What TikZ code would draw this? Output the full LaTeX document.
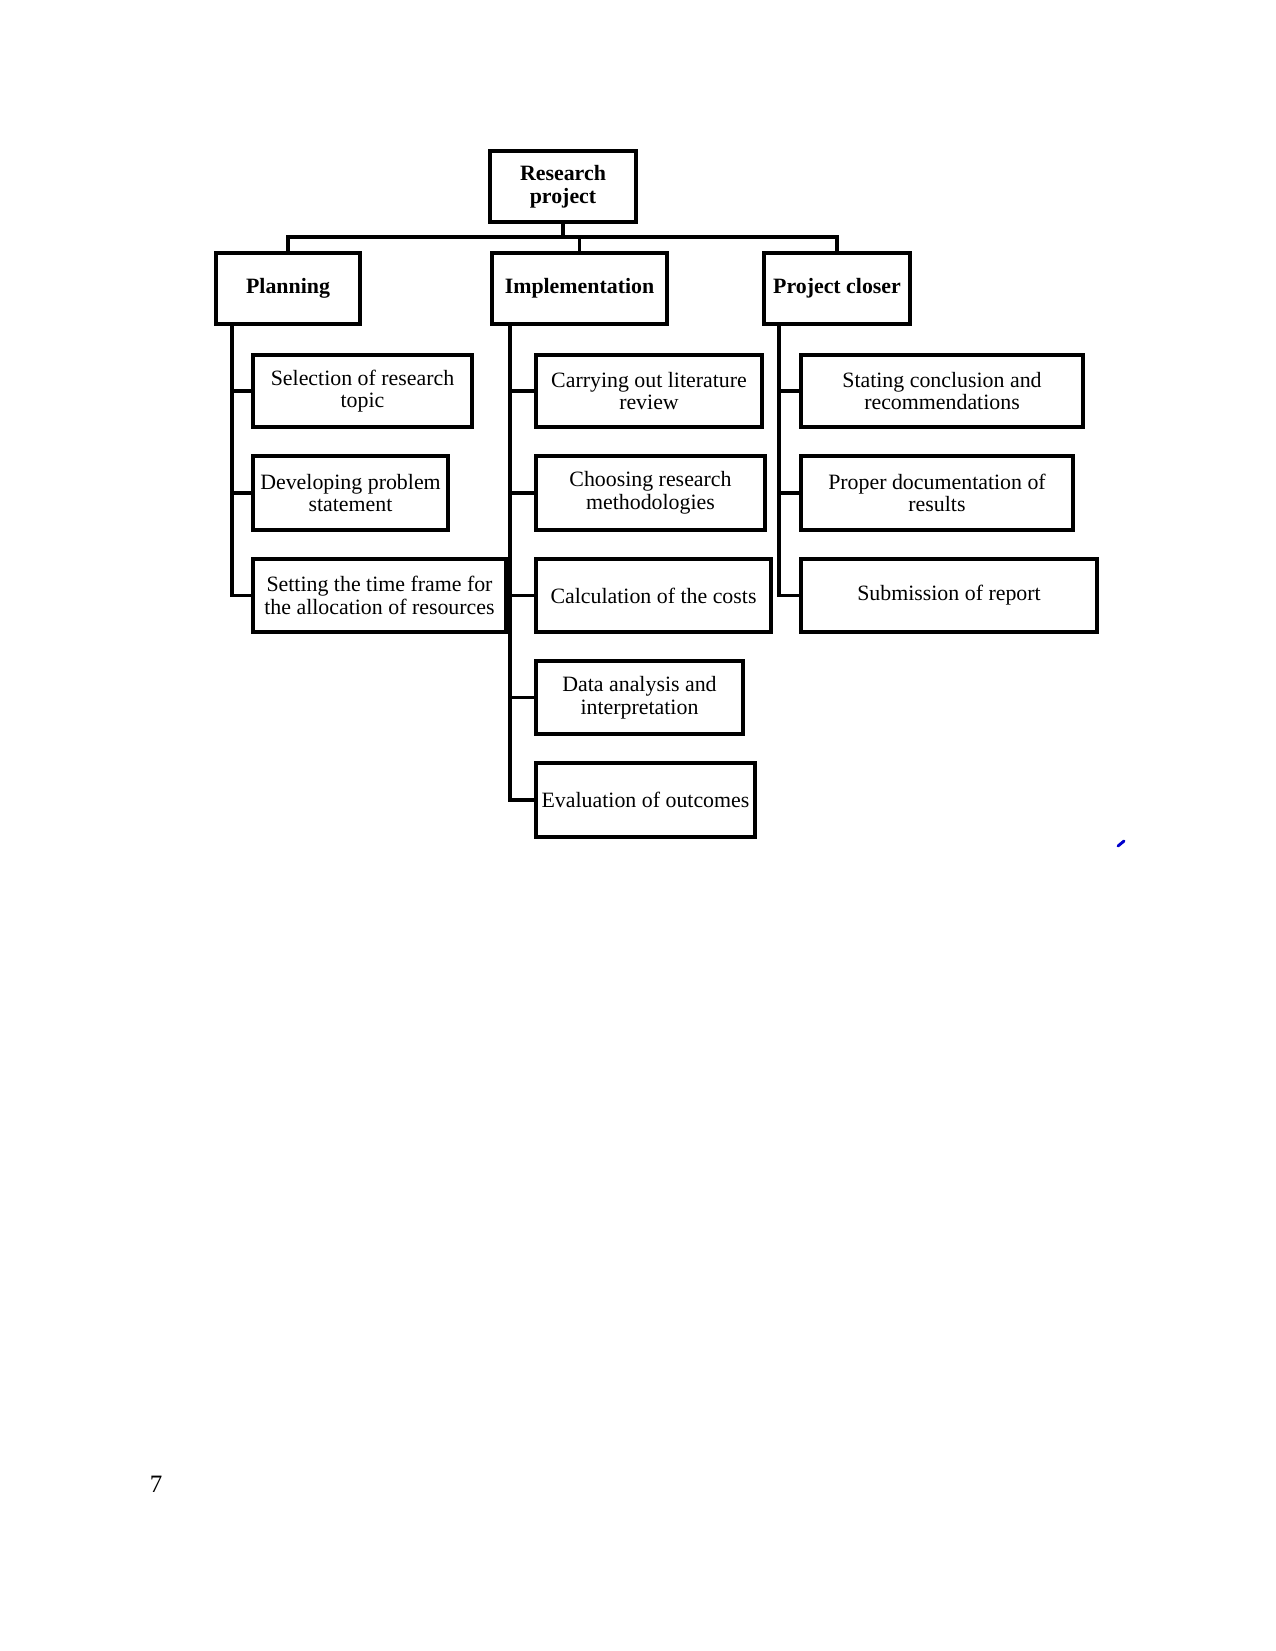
\documentclass[tikz,border=0pt]{standalone}
\usepackage{fontspec}
\setmainfont{Liberation Serif}
\begin{document}
\begin{tikzpicture}[x=0.48pt,y=-0.48pt,
  bx/.style 2 args={draw, line width=1.9pt, rectangle, inner sep=0pt, align=center,
     minimum width=#1*0.48pt, minimum height=#2*0.48pt,
     font=\fontsize{10.5}{10.8}\selectfont},
  hd/.style={font=\fontsize{10.5}{10.8}\selectfont\bfseries},
  conn/.style={line width=1.6pt, line cap=rect}]
\useasboundingbox (0,0) rectangle (1275,1651);
% level 0/1
\node[bx={146}{71}, hd] (root) at (563,186.5) {Research\\project};
\node[bx={144}{71}, hd] (plan) at (288,288.5) {Planning};
\node[bx={175}{71}, hd] (impl) at (579.5,288.5) {Implementation};
\node[bx={146}{71}, hd] (pc) at (837,288.5) {Project closer};
% planning children
\node[bx={219}{72}] (s1) at (362.5,391) {Selection of research\\topic};
\node[bx={195}{74}] (s2) at (350.5,493) {Developing problem\\statement};
\node[bx={253}{73}] (s3) at (379.5,595.5) {Setting the time frame for\\the allocation of resources};
% implementation children
\node[bx={226}{72}] (i1) at (649,391) {Carrying out literature\\review};
\node[bx={229}{74}] (i2) at (650.5,493) {Choosing research\\methodologies};
\node[bx={235}{73}] (i3) at (653.5,595.5) {Calculation of the costs};
\node[bx={207}{73}] (i4) at (639.5,697.5) {Data analysis and\\interpretation};
\node[bx={219}{74}] (i5) at (645.5,800) {Evaluation of outcomes};
% project closer children
\node[bx={282}{72}] (c1) at (942,391) {Stating conclusion and\\recommendations};
\node[bx={272}{74}] (c2) at (937,493) {Proper documentation of\\results};
\node[bx={296}{73}] (c3) at (949,595.5) {Submission of report};
% connectors top
\coordinate (bar) at (563,237);
\draw[conn] (root.south) -- (root.south |- bar);
\draw[conn] (plan.north) -- (plan.north |- bar) -- (pc.north |- bar) -- (pc.north);
\draw[conn] (impl.north) -- (impl.north |- bar);
% trunks
\coordinate (pt) at (232,324);
\coordinate (it) at (510,324);
\coordinate (ct) at (779,324);
\draw[conn] (pt) |- (s3.west);
\draw[conn] (s1.west) -- (s1.west -| pt);
\draw[conn] (s2.west) -- (s2.west -| pt);
\draw[conn] (it) |- (i5.west);
\draw[conn] (i1.west) -- (i1.west -| it);
\draw[conn] (i2.west) -- (i2.west -| it);
\draw[conn] (i3.west) -- (i3.west -| it);
\draw[conn] (i4.west) -- (i4.west -| it);
\draw[conn] (ct) |- (c3.west);
\draw[conn] (c1.west) -- (c1.west -| ct);
\draw[conn] (c2.west) -- (c2.west -| ct);
% page number and stray mark
\node[font=\fontsize{12}{14}\selectfont] (pnum) at (156,1484) {7};
\draw[blue!80!black, line width=1.4pt, line cap=round] (1118,846) -- (1124,841);
\end{tikzpicture}
\end{document}
